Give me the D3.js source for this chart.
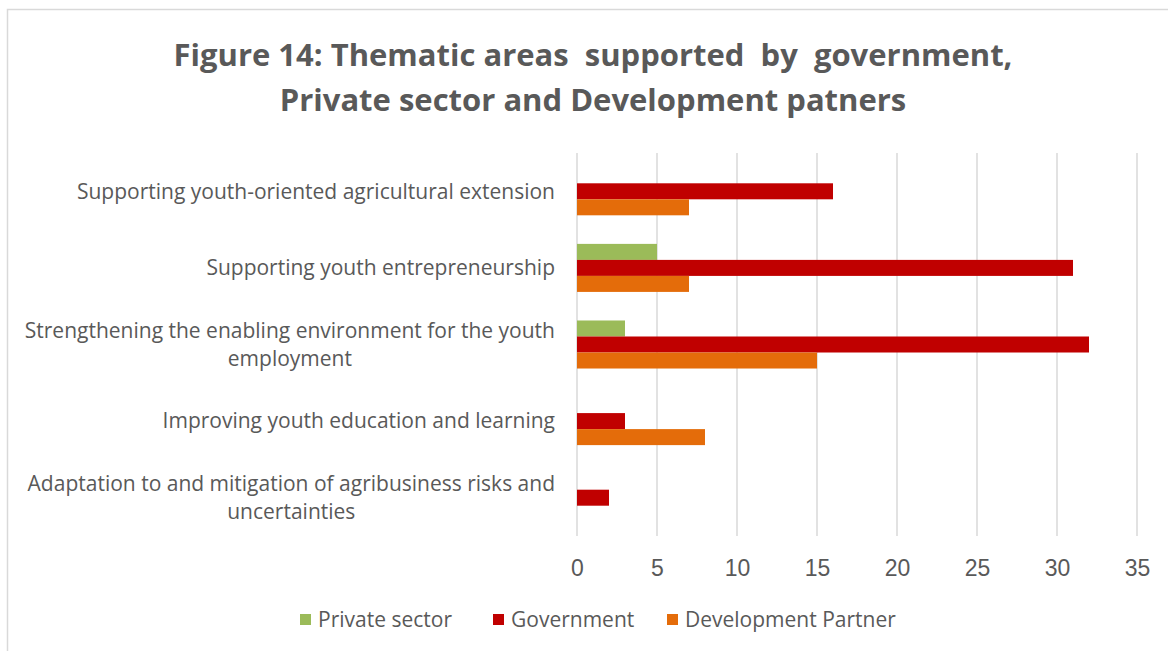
<!DOCTYPE html>
<html>
<head>
<meta charset="UTF-8">
<title>Figure 14</title>
<style>
    body { margin: 0; background: #fff; }
    svg { font-family: "Open Sans", sans-serif; }
    .title { font-weight: bold; font-size: 31px; fill: #595959; white-space: pre; }
    .cat text, .legend text { fill: #595959; font-size: 21px; }
    .tick text { fill: #595959; font-size: 23px; }
    .grid line { stroke: #d9d9d9; stroke-width: 1.5; }
</style>
</head>
<body>
<script src="https://d3js.org/d3.v7.min.js"></script>
<script>
    var categories = [
        ["Supporting youth-oriented agricultural extension"],
        ["Supporting youth entrepreneurship"],
        ["Strengthening the enabling environment for the youth", "employment"],
        ["Improving youth education and learning"],
        ["Adaptation to and mitigation of agribusiness risks and", "uncertainties"]
    ];
    var seriesNames = ["Private sector", "Government", "Development Partner"];
    var seriesColors = ["#9bbb59", "#c00000", "#e46c0a"];
    var privateSector = [0, 5, 3, 0, 0];
    var government = [16, 31, 32, 3, 2];
    var developmentPartner = [7, 7, 15, 8, 0];
    var xTicks = [0, 5, 10, 15, 20, 25, 30, 35];
    var titleLines = ["Figure 14: Thematic areas  supported  by  government,", "Private sector and Development patners"];

    var W = 1168, H = 651;
    var plot = {left: 577, right: 1137, top: 153, bottom: 536};

    var svg = d3.select("body").append("svg")
            .attr("width", W)
            .attr("height", H);

    // chart border
    svg.append("rect")
            .attr("x", 7.5).attr("y", 9.5)
            .attr("width", W).attr("height", H)
            .attr("fill", "none")
            .attr("stroke", "#d9d9d9")
            .attr("stroke-width", 1.5);

    svg.selectAll("text.title")
            .data(titleLines)
            .enter().append("text")
            .attr("class", "title")
            .attr("x", 593)
            .attr("y", function (d, i) { return 66 + i * 45; })
            .attr("text-anchor", "middle")
            .text(function (d) { return d; });

    var x = d3.scaleLinear().domain([0, 35]).range([plot.left, plot.right]);

    var y = d3.scaleBand()
            .domain(d3.range(categories.length))
            .range([plot.top, plot.bottom])
            .paddingInner(0.373)
            .paddingOuter(0.373 / 2);

    var ySub = d3.scaleBand()
            .domain(d3.range(seriesNames.length))
            .range([0, y.bandwidth()]);

    // gridlines
    svg.append("g")
            .attr("class", "grid")
            .selectAll("line")
            .data(xTicks)
            .enter().append("line")
            .attr("x1", function (d) { return x(d); })
            .attr("x2", function (d) { return x(d); })
            .attr("y1", plot.top)
            .attr("y2", plot.bottom);

    var xAxis = d3.axisBottom(x)
            .tickValues(xTicks)
            .tickSize(0)
            .tickPadding(24);

    svg.append("g")
            .attr("transform", "translate(0," + plot.bottom + ")")
            .call(xAxis)
            .call(function (g) { g.select(".domain").remove(); });

    var series = [privateSector, government, developmentPartner];

    series.forEach(function (vals, s) {
        svg.append("g")
                .selectAll("rect")
                .data(vals)
                .enter().append("rect")
                .attr("x", x(0))
                .attr("y", function (d, i) { return y(i) + ySub(s); })
                .attr("width", function (d) { return x(d) - x(0); })
                .attr("height", ySub.bandwidth())
                .attr("fill", seriesColors[s]);
    });

    // category labels, right aligned, multi-line centred among themselves
    var labelRight = 555, lineH = 28;
    var cat = svg.append("g").attr("class", "cat");
    categories.forEach(function (lines, i) {
        var cy = y(i) + y.bandwidth() / 2;
        var g = cat.append("g");
        var texts = lines.map(function (l, j) {
            return g.append("text")
                    .attr("y", cy + (j - (lines.length - 1) / 2) * lineH)
                    .attr("dy", "0.35em")
                    .text(l);
        });
        var maxW = d3.max(texts, function (t) { return t.node().getComputedTextLength(); });
        texts.forEach(function (t) {
            t.attr("text-anchor", "middle").attr("x", labelRight - maxW / 2);
        });
    });

    // legend
    var legendX = [300, 493, 667];
    var legend = svg.append("g").attr("class", "legend");
    seriesNames.forEach(function (name, i) {
        legend.append("rect")
                .attr("x", legendX[i]).attr("y", 614)
                .attr("width", 11).attr("height", 11)
                .attr("fill", seriesColors[i]);
        legend.append("text")
                .attr("x", legendX[i] + 18).attr("y", 620)
                .attr("dy", "0.35em")
                .text(name);
    });
</script>
</body>
</html>
